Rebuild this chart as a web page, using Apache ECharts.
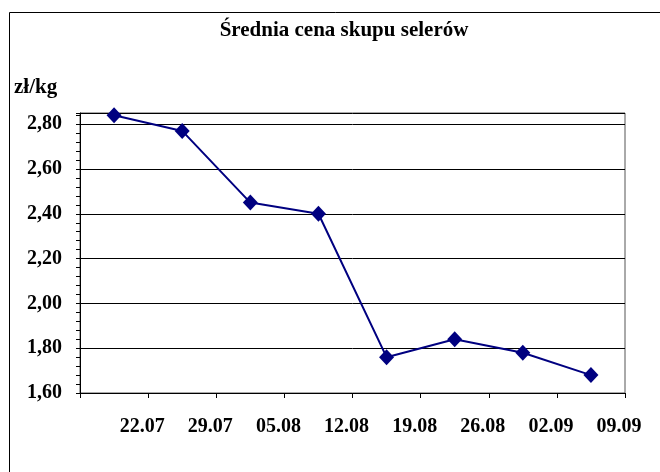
<!DOCTYPE html>
<html>
<head>
<meta charset="utf-8">
<script src="https://cdn.jsdelivr.net/npm/echarts@6/dist/echarts.min.js"></script>
<style>
  html, body { margin: 0; padding: 0; background: #fff; }
  #chart { width: 660px; height: 472px; }
</style>
</head>
<body>
<div id="chart"></div>
<script>
const chartTitle = 'Średnia cena skupu selerów'
const unitLabel = 'zł/kg'
const dates = ['22.07', '29.07', '05.08', '12.08', '19.08', '26.08', '02.09', '09.09']
const prices = [2.84, 2.77, 2.45, 2.40, 1.76, 1.84, 1.78, 1.68]
const yMin = 1.6
const yMax = 2.85
const yStep = 0.2
const yMinorStep = 0.04

const font = '"Liberation Serif", "Times New Roman", serif'
const chart = echarts.init(document.getElementById('chart'))

chart.setOption({
  backgroundColor: '#fff',
  animation: false,
  graphic: [
    {
      type: 'rect',
      shape: { x: 9.5, y: 12.5, width: 700, height: 500 },
      style: { fill: 'none', stroke: '#000', lineWidth: 1 },
      silent: true
    },
    {
      type: 'text',
      x: 344, y: 20,
      style: {
        text: chartTitle, font: 'bold 21px ' + font, fill: '#000',
        textAlign: 'center', textVerticalAlign: 'top'
      }
    },
    {
      type: 'text',
      x: 14, y: 77,
      style: {
        text: unitLabel, font: 'bold 21px ' + font, fill: '#000',
        textAlign: 'left', textVerticalAlign: 'top'
      }
    }
  ],
  grid: { left: 80, right: 35, top: 113, bottom: 79, show: true, borderColor: '#555', borderWidth: 1 },
  xAxis: [
    {
      type: 'category',
      data: dates,
      boundaryGap: true,
      axisLine: { lineStyle: { color: '#000', width: 1 } },
      axisTick: { show: true, length: 5, lineStyle: { color: '#000' } },
      axisLabel: { show: false },
      splitLine: { show: false }
    },
    {
      type: 'category',
      position: 'bottom',
      data: [''].concat(dates),
      boundaryGap: false,
      axisLine: { show: false },
      axisTick: { show: false },
      axisLabel: {
        interval: 0, margin: 24, color: '#000',
        fontFamily: font, fontWeight: 'bold', fontSize: 20,
        padding: [0, 12, 0, 0]
      }
    }
  ],
  yAxis: [
    {
      type: 'value',
      min: yMin, max: yMax, interval: yStep,
      axisLine: { show: true, lineStyle: { color: '#000' } },
      axisTick: { show: false },
      axisLabel: {
        showMaxLabel: false, margin: 18, color: '#000',
        fontFamily: font, fontWeight: 'bold', fontSize: 20,
        verticalAlign: 'middle', padding: [14, 0, 0, 0],
        formatter: v => v.toFixed(2).replace('.', ',')
      },
      splitLine: { show: true, lineStyle: { color: '#000', width: 1 } }
    },
    {
      type: 'value',
      position: 'left',
      min: yMin, max: yMax, interval: yMinorStep,
      axisLine: { show: false },
      axisTick: { show: true, length: 4, lineStyle: { color: '#000' } },
      axisLabel: { show: false },
      splitLine: { show: false }
    }
  ],
  series: [
    {
      type: 'line',
      data: prices,
      xAxisIndex: 0,
      yAxisIndex: 0,
      symbol: 'diamond',
      symbolSize: [15, 16],
      itemStyle: { color: '#000080' },
      lineStyle: { color: '#000080', width: 2 }
    }
  ]
})
</script>
</body>
</html>
